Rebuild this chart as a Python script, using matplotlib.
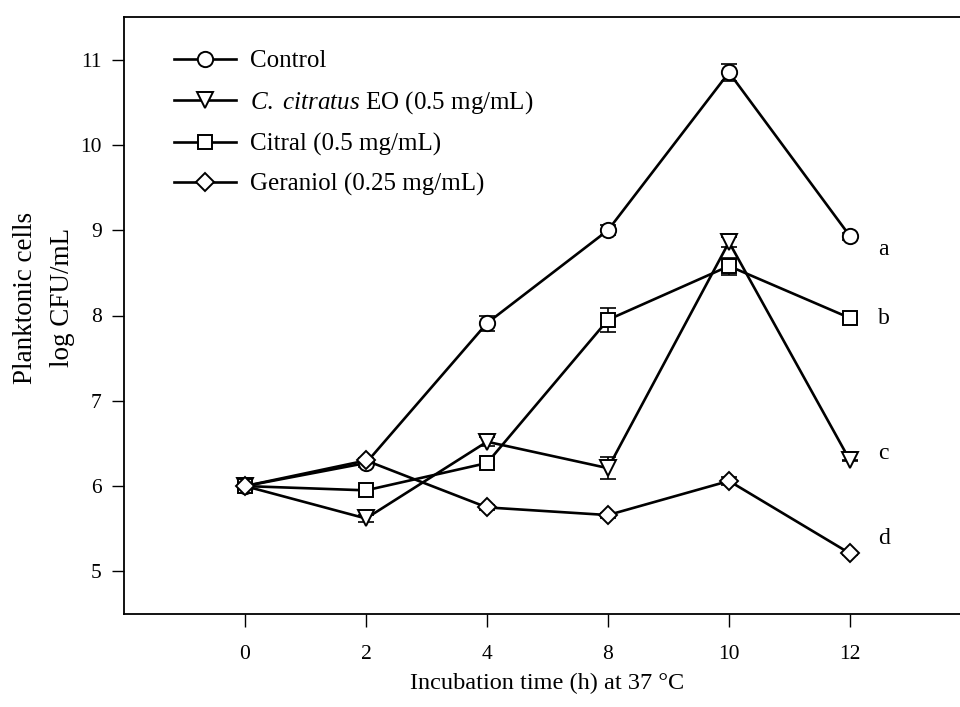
import numpy as np
import matplotlib
matplotlib.use('Agg')
import matplotlib.pyplot as plt

plt.rcParams['font.family'] = ['Liberation Serif', 'DejaVu Serif']
plt.rcParams['mathtext.fontset'] = 'custom'
plt.rcParams['mathtext.rm'] = 'Liberation Serif'
plt.rcParams['mathtext.it'] = 'Liberation Serif:italic'

# incubation times (plotted as equally spaced categories)
times = ['0', '2', '4', '8', '10', '12']

control = [6.00, 6.27, 7.91, 9.00, 10.85, 8.93]
control_sd = [0.03, 0.05, 0.09, 0.06, 0.10, 0.04]
eo = [6.00, 5.62, 6.52, 6.21, 8.86, 6.30]
eo_sd = [0.03, 0.04, 0.05, 0.13, 0.06, 0.01]
citral = [6.00, 5.95, 6.27, 7.95, 8.58, 7.97]
citral_sd = [0.03, 0.03, 0.04, 0.14, 0.10, 0.04]
geraniol = [6.00, 6.30, 5.75, 5.66, 6.06, 5.21]
geraniol_sd = [0.04, 0.03, 0.03, 0.03, 0.05, 0.02]

labels = ['Control', r'$\mathit{C.\ citratus}$ EO (0.5 mg/mL)',
          'Citral (0.5 mg/mL)', 'Geraniol (0.25 mg/mL)']
markers = ['o', 'v', 's', 'D']
msizes = [11, 11, 10, 9.5]
letters = ['a', 'c', 'b', 'd']
letter_y = [8.77, 6.38, 7.97, 5.39]

series = [control, eo, citral, geraniol]
sds = [control_sd, eo_sd, citral_sd, geraniol_sd]

fig = plt.figure(figsize=(9.6, 7.07), dpi=100)
ax = fig.add_axes([124/960, 93/707, 847/960, 597/707])

x = np.arange(len(times))
for i in range(4):
    ax.errorbar(x, series[i], yerr=sds[i], fmt='none', ecolor='black',
                elinewidth=1.2, capsize=6, capthick=1.2, zorder=2)
    ax.plot(x, series[i], color='black', lw=1.9, marker=markers[i],
            ms=msizes[i], mfc='white', mec='black', mew=1.4,
            label=labels[i], zorder=3)
    ax.text(5.23, letter_y[i], letters[i], fontsize=17, va='center', ha='left')

ax.set_xlim(-1, 6)
ax.set_ylim(4.5, 11.5)
ax.set_xticks(x)
ax.set_xticklabels(times)
ax.set_yticks(np.arange(5, 12))
ax.tick_params(direction='out', length=9, width=1, labelsize=15.5, pad=7)
ax.tick_params(axis='x', pad=13)
for s in ax.spines.values():
    s.set_linewidth(1.3)

ax.set_xlabel('Incubation time (h) at 37 \u00b0C', fontsize=17.5, labelpad=7)
ax.set_ylabel('Planktonic cells\nlog CFU/mL', fontsize=19.5, linespacing=1.65)
ax.yaxis.set_label_coords(-0.058, 0.53)

leg = ax.legend(loc='upper left', bbox_to_anchor=(0.059, 0.945), frameon=False,
                fontsize=18, handlelength=2.5, handletextpad=0.55,
                labelspacing=0.68, borderaxespad=0, borderpad=0)

fig.savefig('out.png', dpi=100)
